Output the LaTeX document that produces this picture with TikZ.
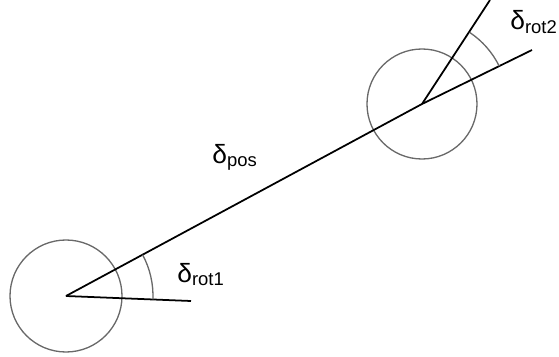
\documentclass[tikz,border=0pt]{standalone}
\usepackage{fontspec}
\setmainfont{Liberation Sans}
\usepackage{tikz}
\usetikzlibrary{positioning}
\definecolor{RingGray}{RGB}{105,105,105}
\tikzset{
  ring/.style={draw=RingGray,line width=0.75pt},
  seg/.style={draw=black,line width=1pt},
  angarc/.style={draw=RingGray,line width=0.75pt},
  lbl/.style={inner sep=0pt,anchor=base west,font=\fontsize{15}{17}\selectfont},
}
\begin{document}
\begin{tikzpicture}[x=0.02cm,y=0.02cm]
      \useasboundingbox (0,0) rectangle (559,356);
      \coordinate (A) at (66,60);
      \coordinate (B) at (422,252);
      \coordinate (E) at (532,306);
      \coordinate (R1) at (191,55);
      \coordinate (R2) at (490,356);
      \draw[ring] (A) circle[radius=56];
      \draw[ring] (B) circle[radius=55];
      \draw[seg] (A) -- (B) -- (E);
      \draw[seg] (A) -- (R1);
      \draw[seg] (B) -- (R2);
      \draw[angarc] (A) ++(-2.3:87) arc[start angle=-2.3,end angle=28.3,radius=87];
      \draw[angarc] (B) ++(26.1:86) arc[start angle=26.1,end angle=56.3,radius=86];
      \node[lbl] (pos) at (212,193) {δ\textsubscript{pos}};
      \node[lbl] (rot1) at (177,74) {δ\textsubscript{rot1}};
      \node[lbl] (rot2) at (510,327) {δ\textsubscript{rot2}};
    \end{tikzpicture}
\end{document}
